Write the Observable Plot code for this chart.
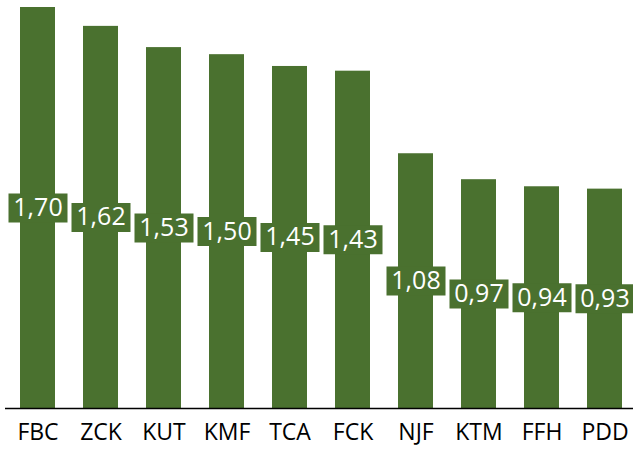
<!DOCTYPE html>
<html>
<head>
<meta charset="utf-8">
<script src="https://cdn.jsdelivr.net/npm/d3@7"></script>
<script src="https://cdn.jsdelivr.net/npm/@observablehq/plot@0.6"></script>
<style>
  html, body { margin: 0; padding: 0; background: #fff; }
  #chart svg { display: block; }
</style>
</head>
<body>
<div id="chart"></div>
<script>
const categories = ["FBC", "ZCK", "KUT", "KMF", "TCA", "FCK", "NJF", "KTM", "FFH", "PDD"];
const values = [1.70, 1.62, 1.53, 1.50, 1.45, 1.43, 1.08, 0.97, 0.94, 0.93];

const data = categories.map((c, i) => ({cat: c, val: values[i]}));
const green = "#4a712f";
const fmt = v => v.toFixed(2).replace(".", ",");

// label box symbol (fixed-size rectangle around each value label)
const boxSymbol = {
  draw(ctx) {
    const w = 59, h = 29;
    ctx.rect(-w / 2, -h / 2, w, h);
  }
};

const chart = Plot.plot({
  width: 633,
  height: 454,
  marginTop: 7,
  marginBottom: 46,
  marginLeft: 5,
  marginRight: 0,
  style: {fontFamily: "'Open Sans', Lato, sans-serif", background: "#fff"},
  x: {domain: categories, range: [5, 637], paddingInner: 0.44, paddingOuter: 0.22, label: null},
  y: {domain: [0, 1.70], axis: null},
  marks: [
    Plot.barY(data, {x: "cat", y: "val", fill: green}),
    Plot.dot(data, {x: "cat", y: d => d.val / 2, symbol: boxSymbol, fill: green, stroke: "none", r: 10}),
    Plot.text(data, {x: "cat", y: d => d.val / 2, text: d => fmt(d.val), fill: "white", fontSize: 25, dy: 0}),
    Plot.ruleY([0], {stroke: "#000", strokeWidth: 1.5}),
    Plot.axisX({tickSize: 0, tickPadding: 15, fontSize: 23, fill: "#000", label: null})
  ]
});
document.getElementById("chart").appendChild(chart);
</script>
</body>
</html>
